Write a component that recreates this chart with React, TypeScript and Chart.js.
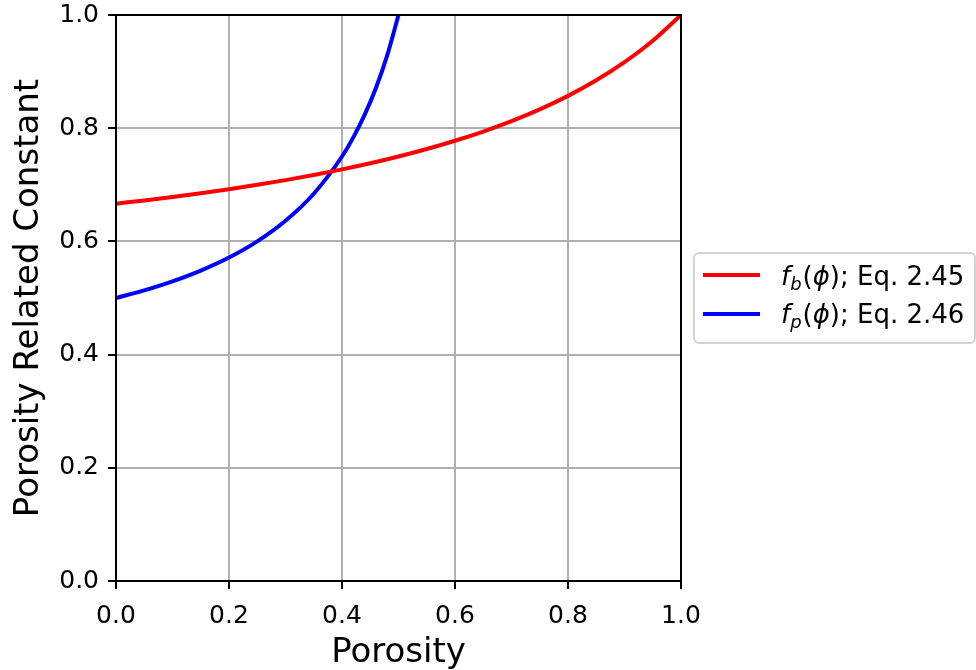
import React, { useEffect, useRef } from "react";
import { Chart, registerables } from "chart.js";

Chart.register(...registerables);

// Porosity samples and porosity related constants
const porosityB = [0, 0.05, 0.1, 0.15, 0.2, 0.25, 0.3, 0.35, 0.4, 0.45, 0.5, 0.55, 0.6, 0.65, 0.7, 0.75, 0.8, 0.85, 0.9, 0.95, 1.0];
const constantB = [0.6667, 0.6724, 0.6786, 0.6852, 0.6923, 0.7, 0.7083, 0.7174, 0.7273, 0.7381, 0.75, 0.7632, 0.7778, 0.7941, 0.8125, 0.8333, 0.8571, 0.8846, 0.9167, 0.9545, 1.0];

const porosityP = [0, 0.05, 0.1, 0.15, 0.2, 0.25, 0.3, 0.35, 0.4, 0.42, 0.44, 0.46, 0.48, 0.5];
const constantP = [0.5, 0.5135, 0.5294, 0.5484, 0.5714, 0.6, 0.6364, 0.6842, 0.75, 0.7838, 0.8235, 0.871, 0.9286, 1.0];

const xTitle = "Porosity";
const yTitle = "Porosity Related Constant";
const legendEntries = [
  { sub: "b", eq: "; Eq. 2.45", color: "#ff0000" },
  { sub: "p", eq: "; Eq. 2.46", color: "#0000ff" },
];

const FONT = '"DejaVu Sans", "Liberation Sans", sans-serif';

const decorPlugin = {
  id: "decor",
  afterDatasetsDraw(chart: any) {
    const { ctx, chartArea } = chart;
    const { left, top, right, bottom } = chartArea;
    ctx.save();
    ctx.strokeStyle = "#000";
    ctx.lineWidth = 2;
    ctx.beginPath();
    ctx.moveTo(left, top);
    ctx.lineTo(right, top);
    ctx.lineTo(right, bottom);
    ctx.lineTo(left, bottom);
    ctx.closePath();
    ctx.stroke();
    ctx.restore();
  },
  afterDraw(chart: any) {
    const { ctx, chartArea } = chart;
    const { left, top, right, bottom } = chartArea;
    ctx.save();
    ctx.fillStyle = "#000";
    // axis titles
    ctx.font = `34px ${FONT}`;
    ctx.textAlign = "center";
    ctx.textBaseline = "alphabetic";
    ctx.fillText(xTitle, (left + right) / 2, 662);
    ctx.save();
    ctx.translate(37.5, (top + bottom) / 2);
    ctx.rotate(-Math.PI / 2);
    ctx.fillText(yTitle, 0, 0);
    ctx.restore();

    // legend
    const bx = 694, by = 253, bw = 281, bh = 90;
    ctx.beginPath();
    ctx.roundRect(bx, by, bw, bh, 5);
    ctx.fillStyle = "rgba(255,255,255,0.8)";
    ctx.fill();
    ctx.strokeStyle = "#d4d4d4";
    ctx.lineWidth = 2;
    ctx.stroke();

    const lineYs = [275, 314];
    const baseYs = [285, 323];
    legendEntries.forEach((e, i) => {
      ctx.strokeStyle = e.color;
      ctx.lineWidth = 4;
      ctx.beginPath();
      ctx.moveTo(703, lineYs[i]);
      ctx.lineTo(760, lineYs[i]);
      ctx.stroke();
      ctx.fillStyle = "#000";
      ctx.textAlign = "left";
      ctx.textBaseline = "alphabetic";
      let cx = 781;
      const yb = baseYs[i];
      ctx.font = `italic 26px ${FONT}`;
      ctx.fillText("f", cx, yb);
      cx += ctx.measureText("f").width;
      ctx.font = `italic 18px ${FONT}`;
      ctx.fillText(e.sub, cx, yb + 5);
      cx += ctx.measureText(e.sub).width + 1;
      ctx.font = `26px ${FONT}`;
      ctx.fillText("(", cx, yb);
      cx += ctx.measureText("(").width;
      ctx.font = `italic 26px ${FONT}`;
      ctx.fillText("\u03d5", cx, yb);
      cx += ctx.measureText("\u03d5").width;
      ctx.font = `26px ${FONT}`;
      ctx.fillText(")", cx, yb);
      cx += ctx.measureText(")").width;
      ctx.fillText(e.eq, cx, yb);
    });
    ctx.restore();
  },
};

export default function App() {
  const ref = useRef<HTMLCanvasElement | null>(null);
  useEffect(() => {
    if (!ref.current) return;
    const axisCommon = {
      type: "linear" as const,
      min: 0,
      max: 1,
      ticks: {
        stepSize: 0.2,
        color: "#000",
        font: { family: FONT, size: 25 },
        callback: (v: any) => Number(v).toFixed(1),
      },
      grid: {
        color: "#b0b0b0",
        lineWidth: 2,
        tickColor: "#000",
        tickLength: 8,
        tickWidth: 2,
      },
      border: { color: "#000", width: 2 },
    };
    const chart = new Chart(ref.current, {
      type: "scatter",
      data: {
        datasets: [
          {
            label: "f_b",
            data: porosityB.map((x, i) => ({ x, y: constantB[i] })),
            showLine: true,
            borderColor: "#ff0000",
            borderWidth: 4,
            pointRadius: 0,
            cubicInterpolationMode: "monotone",
          },
          {
            label: "f_p",
            data: porosityP.map((x, i) => ({ x, y: constantP[i] })),
            showLine: true,
            borderColor: "#0000ff",
            borderWidth: 4,
            pointRadius: 0,
            cubicInterpolationMode: "monotone",
          },
        ],
      },
      options: {
        animation: false,
        responsive: false,
        devicePixelRatio: 1,
        layout: { padding: { top: 15, right: 295, left: 0, bottom: 0 } },
        plugins: { legend: { display: false }, tooltip: { enabled: false } },
        scales: {
          x: {
            ...axisCommon,
            position: "bottom",
            ticks: { ...axisCommon.ticks, padding: 12, maxRotation: 0 },
            afterFit: (s: any) => {
              s.height = 89;
              s.paddingLeft = 0;
              s.paddingRight = 0;
            },
          },
          y: {
            ...axisCommon,
            position: "left",
            ticks: { ...axisCommon.ticks, padding: 9 },
            afterFit: (s: any) => {
              s.width = 116;
              s.paddingTop = 0;
              s.paddingBottom = 0;
            },
          },
        },
      },
      plugins: [decorPlugin],
    } as any);
    return () => chart.destroy();
  }, []);
  return (
    <div style={{ position: "fixed", left: 0, top: 0, width: 976, height: 670, background: "#fff" }}>
      <canvas ref={ref} width={976} height={670} style={{ width: 976, height: 670, display: "block" }} />
    </div>
  );
}
